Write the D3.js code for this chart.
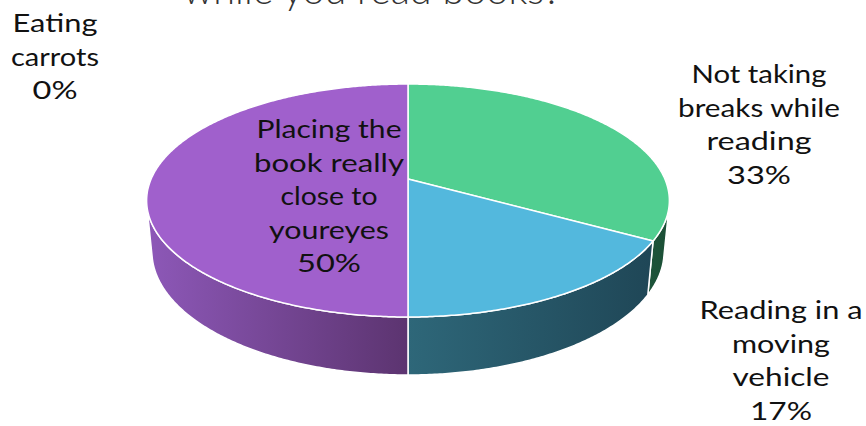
<!DOCTYPE html>
<html><head><meta charset="utf-8">
<script src="https://cdn.jsdelivr.net/npm/d3@7"></script>
<style>html,body{margin:0;padding:0;background:#fff;overflow:hidden}</style>
</head><body>
<svg id="chart" width="866" height="426"></svg>
<script>
// ---- data ----
const categories = ["Not taking breaks while reading", "Reading in a moving vehicle", "Placing the book really close to youreyes", "Eating carrots"];
const values = [2, 1, 3, 0];
const labelLines = [["Not taking", "breaks while", "reading"], ["Reading in a", "moving", "vehicle"], ["Placing the", "book really", "close to", "youreyes"], ["Eating", "carrots"]];
const topColors = ["#51CF91", "#53B8DD", "#A060CC", "#E07A3A"];
const sideColors = [["#215E41", "#1B4F36"], ["#2E6779", "#1F4656"], ["#8D58B8", "#5C3470"], ["#A85528", "#8A4420"]];
const titleText = "while you read books?";

// ---- layout ----
const W = 866, H = 426;
const cam = {cx: 408, cy: 179, f: 1251, D: 4.87, s: 0.438, c: 0.899, h: 0.2218};
const labelLayout = [
  {x: 759, y: 83, widths: [135, 162, 105, 64]},
  {x: 781, y: 319, widths: [163, 98, 97, 62]},
  {x: 329, y: 138, widths: [145, 150, 97, 120, 64]},
  {x: 55, y: 32, widths: [85, 88, 45]}
];
const lineH = 33.6;
const gradX = [[600, 670], [408, 655], [147, 408], [0, 1]];

const svg = d3.select("#chart");
const total = d3.sum(values);
const fmt = d3.format(".0%");
const data = categories.map((name, i) => ({name, value: values[i], i}));
const arcs = d3.pie().sort(null).value(d => d.value)(data);

function project(theta, Y) {
  const X = Math.sin(theta), Z = -Math.cos(theta);
  const depth = cam.D - Y * cam.s - Z * cam.c;
  const w = Y * cam.c - Z * cam.s;
  return [cam.cx + cam.f * X / depth, cam.cy - cam.f * w / depth];
}
function arcPts(a, b, Y) {
  const n = Math.max(2, Math.ceil(Math.abs(b - a) / (Math.PI / 360)));
  return d3.range(n + 1).map(k => project(a + (b - a) * k / n, Y));
}
const line = d3.line();

const defs = svg.append("defs");
arcs.forEach((d, i) => {
  const g = defs.append("linearGradient").attr("id", "side" + i)
    .attr("gradientUnits", "userSpaceOnUse")
    .attr("x1", gradX[i][0]).attr("x2", gradX[i][1]).attr("y1", 0).attr("y2", 0);
  g.append("stop").attr("offset", "0%").attr("stop-color", sideColors[i][0]);
  g.append("stop").attr("offset", "100%").attr("stop-color", sideColors[i][1]);
});

// visible side range
const zmin = 1 / (cam.D * cam.c);
const tA = Math.acos(-zmin), tB = 2 * Math.PI - Math.acos(-zmin);

const sides = svg.append("g");
arcs.forEach((d, i) => {
  const a = Math.max(d.startAngle, tA), b = Math.min(d.endAngle, tB);
  if (b <= a) return;
  const pts = arcPts(a, b, 0).concat(arcPts(b, a, -cam.h));
  sides.append("path").attr("d", line(pts) + "Z")
    .attr("fill", `url(#side${i})`)
    .attr("stroke", "#fff").attr("stroke-width", 1.5).attr("stroke-linejoin", "round");
});

const tops = svg.append("g");
arcs.forEach((d, i) => {
  if (d.endAngle - d.startAngle <= 0) return;
  const pts = [[cam.cx, cam.cy]].concat(arcPts(d.startAngle, d.endAngle, 0));
  tops.append("path").attr("d", line(pts) + "Z")
    .attr("fill", topColors[i])
    .attr("stroke", "#fff").attr("stroke-width", 1.5).attr("stroke-linejoin", "round");
});

// labels
const labels = svg.append("g").attr("font-family", "Lato, 'Open Sans', sans-serif")
  .attr("font-size", 25).attr("fill", "#111").attr("text-anchor", "middle");
arcs.forEach((d, i) => {
  const L = labelLayout[i];
  const lines = labelLines[i].concat([fmt(values[i] / total)]);
  lines.forEach((t, k) => {
    labels.append("text").attr("x", L.x).attr("y", L.y + k * lineH)
      .attr("textLength", L.widths[k]).attr("lengthAdjust", "spacingAndGlyphs")
      .text(t);
  });
});

// title (cut off at top, as in the reference)
svg.append("text").attr("x", 183).attr("y", 4)
  .attr("font-family", "Lato, 'Open Sans', sans-serif").attr("font-weight", 300)
  .attr("font-size", 40).attr("fill", "#333")
  .attr("textLength", 378).attr("lengthAdjust", "spacingAndGlyphs")
  .text(titleText);
</script>
</body></html>
